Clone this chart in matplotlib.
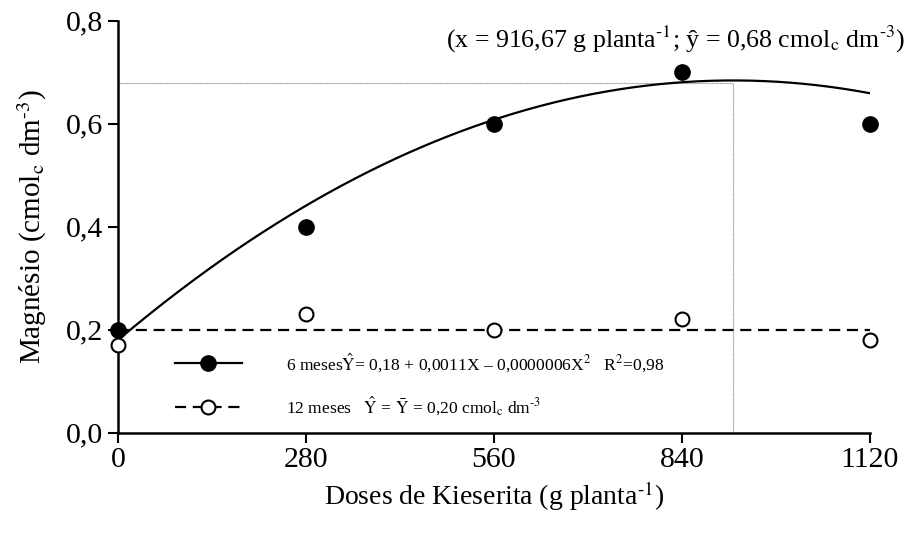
import matplotlib
matplotlib.use('Agg')
import matplotlib.pyplot as plt
from matplotlib.lines import Line2D
import numpy as np

# Fonte tipo Times
plt.rcParams['font.family'] = 'Liberation Serif'
plt.rcParams['mathtext.fontset'] = 'stix'

# ===== Dados =====
doses = [0, 280, 560, 840, 1120]
mg_6meses = [0.20, 0.40, 0.60, 0.70, 0.60]
mg_12meses = [0.17, 0.23, 0.20, 0.22, 0.18]

# Coeficientes da regressão quadrática (6 meses)
B0, B1, B2 = 0.18, 0.0011, -0.0000006
MEDIA_12 = 0.20
X_MAX_PONTO = 916.67
Y_MAX_PONTO = 0.68

y_ticks = [0.0, 0.2, 0.4, 0.6, 0.8]
y_tick_labels = ['0,0', '0,2', '0,4', '0,6', '0,8']

FONT_TICKS = 21.5
FONT_XLABEL = 20
FONT_YLABEL = 21
FONT_LEGEND = 12.6
HIFEN = '\u2010'

fig = plt.figure(figsize=(9.07, 5.33), dpi=100)
ax = fig.add_axes([0.130, 0.188, 0.829, 0.773])

# curva ajustada
x_fit = np.linspace(0, 1120, 400)
y_fit = B0 + B1 * x_fit + B2 * x_fit ** 2
ax.plot(x_fit, y_fit, '-', color='black', lw=1.6, zorder=2)

# média 12 meses
ax.plot([doses[0], doses[-1]], [MEDIA_12, MEDIA_12], color='black', lw=1.6,
        linestyle=(0, (5, 3)), zorder=2)

# linhas de referência do ponto de máximo
ax.plot([0, X_MAX_PONTO], [Y_MAX_PONTO, Y_MAX_PONTO], color='#999999', lw=0.8,
        linestyle=(0, (1, 0.5)), zorder=1)
ax.plot([X_MAX_PONTO, X_MAX_PONTO], [0, Y_MAX_PONTO], color='#999999', lw=0.8,
        linestyle=(0, (1, 0.5)), zorder=1)

ax.plot(doses, mg_6meses, 'o', ms=11, color='black', clip_on=False, zorder=4)
ax.plot(doses, mg_12meses, 'o', ms=10, mfc='white', mec='black', mew=1.5,
        clip_on=False, zorder=4)

ax.set_xlim(0, 1120)
ax.set_ylim(0, 0.8)
ax.set_xticks(doses)
ax.set_xticklabels([str(d) for d in doses])
ax.set_yticks(y_ticks)
ax.set_yticklabels(y_tick_labels)
ax.tick_params(axis='both', labelsize=FONT_TICKS, width=1.5, length=7, direction='out')

for s in ['top', 'right']:
    ax.spines[s].set_visible(False)
for s in ['left', 'bottom']:
    ax.spines[s].set_linewidth(1.8)

ax.set_xlabel('Doses de Kieserita (g planta$^{' + HIFEN + '1}$)', fontsize=FONT_XLABEL, labelpad=4)
ax.set_ylabel('Magnésio (cmol$_\\mathrm{c}$ dm$^{' + HIFEN + '3}$)', fontsize=FONT_YLABEL, labelpad=12)

# legenda com as equações
handles = [
    Line2D([], [], color='black', lw=1.6, marker='o', ms=11),
    Line2D([], [], color='black', lw=1.6, linestyle=(0, (5, 3)), marker='o', ms=10,
           mfc='white', mec='black', mew=1.5),
]
labels = [
    '6 meses$\\hat{\\mathrm{Y}}$= 0,18 + 0,0011X – 0,0000006X$^{2}$   R$^{2}$=0,98',
    '12 meses   $\\hat{\\mathrm{Y}}$ = $\\bar{\\mathrm{Y}}$ = 0,20 cmol$_\\mathrm{c}$ dm$^{' + HIFEN + '3}$',
]
leg = ax.legend(handles, labels, loc='lower left', bbox_to_anchor=(0.055, 0.0),
                frameon=False, fontsize=FONT_LEGEND, handlelength=3.8,
                handletextpad=2.55, labelspacing=1.15)

fig.text(0.745, 0.925,
         '(x = 916,67 g planta$^{' + HIFEN + '1}$; ŷ = 0,68 cmol$_\\mathrm{c}$ dm$^{' + HIFEN + '3}$)',
         fontsize=18.6, ha='center', va='center')

fig.savefig('out.png', dpi=100)
